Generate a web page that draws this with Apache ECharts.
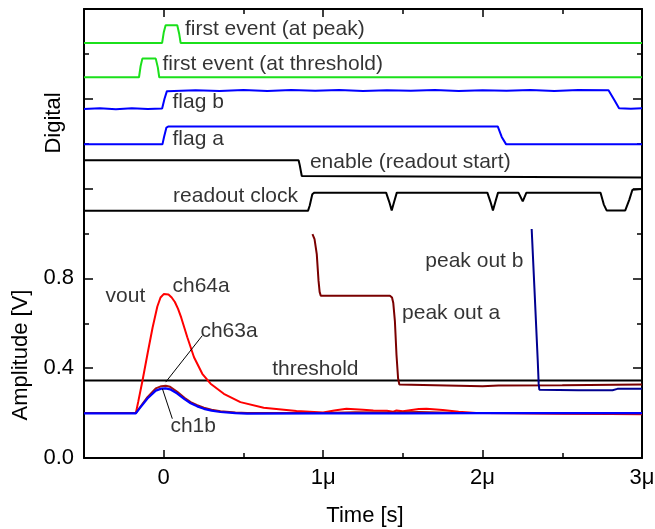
<!DOCTYPE html>
<html>
<head>
<meta charset="utf-8">
<title>Readout timing</title>
<script src="https://cdn.jsdelivr.net/npm/echarts@6/dist/echarts.min.js"></script>
<style>
  html, body { margin: 0; padding: 0; background: #fff; }
  #chart { width: 655px; height: 529px; }
</style>
</head>
<body>
<div id="chart"></div>
<script>
// Time axis in microseconds, vertical axis in volts (digital traces stacked above 1 V)
const timeMin = -0.5;
const timeMax = 3;
const timeMajorTicks = [0, 1, 2, 3];
const timeMinorTicks = [0.5, 1.5, 2.5];
const timeTickLabels = ['0', '1μ', '2μ', '3μ'];
const ampMin = 0;
const ampMax = 2;
const ampStep = 0.4;

// Digital traces: [time (µs), level]
const firstEventPeak = [[-0.5, 1.849], [-0.01, 1.849], [0.0, 1.895], [0.012, 1.928], [0.085, 1.928], [0.097, 1.89], [0.106, 1.849], [3, 1.849]];
const firstEventThreshold = [[-0.5, 1.696], [-0.155, 1.696], [-0.145, 1.745], [-0.134, 1.779], [-0.05, 1.779], [-0.037, 1.74], [-0.028, 1.696], [3, 1.696]];
const flagB = [[-0.5, 1.555], [-0.4, 1.558], [-0.3, 1.554], [-0.2, 1.558], [-0.1, 1.555], [-0.01, 1.557], [0.005, 1.6], [0.02, 1.634], [0.2, 1.638], [0.35, 1.635], [0.5, 1.639], [0.65, 1.635], [0.8, 1.639], [0.95, 1.636], [1.1, 1.639], [1.25, 1.635], [1.4, 1.638], [1.55, 1.636], [1.7, 1.639], [1.85, 1.635], [2.0, 1.638], [2.15, 1.636], [2.3, 1.639], [2.45, 1.635], [2.6, 1.639], [2.79, 1.638], [2.83, 1.59], [2.856, 1.558], [2.93, 1.556], [3, 1.558]];
const flagA = [[-0.5, 1.397], [-0.008, 1.397], [0.002, 1.43], [0.017, 1.472], [0.03, 1.477], [2.095, 1.477], [2.12, 1.43], [2.148, 1.397], [3, 1.397]];
const enable = [[-0.5, 1.326], [0.846, 1.326], [0.853, 1.305], [0.866, 1.256], [0.876, 1.249], [3, 1.249]];
const readoutClock = [[-0.5, 1.101], [0.905, 1.101], [0.916, 1.125], [0.932, 1.175], [0.945, 1.182], [1.395, 1.182], [1.415, 1.14], [1.43, 1.103], [1.445, 1.14], [1.462, 1.182], [2.03, 1.182], [2.05, 1.14], [2.065, 1.103], [2.08, 1.14], [2.097, 1.182], [2.225, 1.182], [2.252, 1.143], [2.275, 1.182], [2.74, 1.182], [2.76, 1.13], [2.778, 1.103], [2.895, 1.103], [2.92, 1.15], [2.94, 1.195], [3, 1.198]];

// Analog traces: [time (µs), amplitude (V)]
const threshold = [[-0.5, 0.345], [3, 0.345]];
const ch64a = [[-0.5, 0.2], [-0.175, 0.2], [-0.16, 0.25], [-0.133, 0.345], [-0.1, 0.47], [-0.07, 0.58], [-0.04, 0.675], [-0.02, 0.715], [0.0, 0.73], [0.0125, 0.733], [0.03, 0.728], [0.05, 0.715], [0.07, 0.695], [0.09, 0.664], [0.11, 0.625], [0.148, 0.538], [0.19, 0.449], [0.242, 0.375], [0.294, 0.331], [0.377, 0.286], [0.481, 0.249], [0.627, 0.224], [0.833, 0.209], [1.0, 0.203], [1.07, 0.212], [1.146, 0.219], [1.25, 0.215], [1.315, 0.212], [1.4, 0.21], [1.44, 0.206], [1.46, 0.212], [1.5, 0.208], [1.6, 0.218], [1.648, 0.219], [1.75, 0.214], [1.85, 0.206], [1.96, 0.2], [2.2, 0.199], [2.5, 0.197], [2.8, 0.196], [3, 0.195]];
const ch63a = [[-0.5, 0.2], [-0.175, 0.2], [-0.15, 0.225], [-0.102, 0.271], [-0.05, 0.31], [-0.015, 0.32], [0.0125, 0.322], [0.04, 0.317], [0.085, 0.295], [0.13, 0.268], [0.169, 0.249], [0.21, 0.235], [0.252, 0.224], [0.3, 0.215], [0.356, 0.208], [0.45, 0.203], [0.523, 0.2], [0.8, 0.2], [1.0, 0.201], [1.2, 0.204], [1.4, 0.203], [1.6, 0.205], [1.8, 0.202], [2.0, 0.2], [2.5, 0.199], [3, 0.198]];
const ch1b = [[-0.5, 0.199], [-0.175, 0.199], [-0.15, 0.222], [-0.102, 0.265], [-0.05, 0.3], [-0.015, 0.309], [0.0125, 0.31], [0.04, 0.306], [0.085, 0.287], [0.13, 0.262], [0.169, 0.244], [0.21, 0.23], [0.252, 0.219], [0.3, 0.211], [0.356, 0.205], [0.45, 0.2], [0.523, 0.198], [1.0, 0.199], [1.5, 0.199], [2.0, 0.2], [2.5, 0.2], [3, 0.2]];
const peakOutA = [[0.933, 0.997], [0.946, 0.975], [0.96, 0.908], [0.971, 0.79], [0.978, 0.74], [0.985, 0.723], [1.419, 0.723], [1.432, 0.715], [1.44, 0.69], [1.45, 0.61], [1.46, 0.46], [1.47, 0.355], [1.478, 0.327], [1.486, 0.32], [2.0, 0.32], [2.1, 0.323], [2.5, 0.324], [3, 0.327]];
const peakOutB = [[2.308, 1.02], [2.325, 0.76], [2.346, 0.434], [2.352, 0.33], [2.356, 0.304], [2.6, 0.302], [2.815, 0.302], [2.846, 0.308], [3, 0.308]];

// Leader lines from labels to curves
const ch63aLeader = [[0.242, 0.545], [0.0125, 0.338]];
const ch1bLeader = [[-0.008, 0.308], [0.054, 0.175]];

// Trace labels and their anchor points (left edge, vertical centre)
const labelTexts = ['first event (at peak)', 'first event (at threshold)', 'flag b', 'flag a', 'enable (readout start)', 'readout clock', 'vout', 'ch64a', 'ch63a', 'threshold', 'ch1b', 'peak out a', 'peak out b'];
const labelAnchors = [[0.133, 1.911], [-0.008, 1.755], [0.055, 1.586], [0.055, 1.421], [0.917, 1.318], [0.059, 1.166], [-0.365, 0.721], [0.055, 0.765], [0.23, 0.567], [0.68, 0.395], [0.042, 0.141], [1.495, 0.647], [1.641, 0.877]];

const FONT = "'Liberation Sans', Arial, Helvetica, sans-serif";
const GREEN = '#1be01b';
const BLUE = '#0000ff';

function trace(name, data, color, width) {
  return {
    name, type: 'line', data, xAxisIndex: 0, yAxisIndex: 0,
    showSymbol: false, symbol: 'none', silent: true,
    lineStyle: { color, width: width || 2 },
    animation: false
  };
}

function xAxisDef(position, ticks, tickLen, withLine, withLabels) {
  return {
    type: 'value', position, min: timeMin, max: timeMax, interval: 0.5,
    axisLine: { show: withLine, onZero: false, lineStyle: { color: '#000', width: 2 } },
    axisTick: { show: true, inside: true, length: tickLen, customValues: ticks, lineStyle: { color: '#000', width: 1.5 } },
    axisLabel: withLabels ? {
      show: true, customValues: timeMajorTicks, margin: 9,
      fontFamily: FONT, fontSize: 22, color: '#000',
      formatter: v => timeTickLabels[timeMajorTicks.indexOf(Math.round(v))] || ''
    } : { show: false },
    splitLine: { show: false }
  };
}

function yAxisDef(position, withLabels) {
  return {
    type: 'value', position, min: ampMin, max: ampMax, interval: ampStep,
    axisLine: { show: true, onZero: false, lineStyle: { color: '#000', width: 2 } },
    axisTick: { show: true, inside: true, length: 9, lineStyle: { color: '#000', width: 1.5 } },
    minorTick: { show: true, splitNumber: 2, length: 5, lineStyle: { color: '#000', width: 1.5 } },
    axisLabel: withLabels ? {
      show: true, margin: 10, fontFamily: FONT, fontSize: 22, color: '#000',
      formatter: v => (v <= 0.8 + 1e-9 ? v.toFixed(1) : '')
    } : { show: false },
    splitLine: { show: false },
    minorSplitLine: { show: false }
  };
}

const chart = echarts.init(document.getElementById('chart'), null, { renderer: 'canvas' });

chart.setOption({
  animation: false,
  backgroundColor: '#fff',
  grid: { left: 84, right: 13, top: 9, bottom: 71, containLabel: false, outerBoundsMode: 'none' },
  xAxis: [
    xAxisDef('bottom', timeMajorTicks, 8, true, true),
    xAxisDef('bottom', timeMinorTicks, 5, false, false),
    xAxisDef('top', timeMajorTicks, 8, true, false),
    xAxisDef('top', timeMinorTicks, 5, false, false)
  ],
  yAxis: [yAxisDef('left', true), yAxisDef('right', false)],
  graphic: [
    { type: 'text', x: 365, y: 516, style: { text: 'Time [s]', fontFamily: FONT, fontSize: 22, fill: '#000', align: 'center', verticalAlign: 'middle' } },
    { type: 'text', x: 21, y: 355, rotation: Math.PI / 2, style: { text: 'Amplitude [V]', fontFamily: FONT, fontSize: 22, fill: '#000', align: 'center', verticalAlign: 'middle' } },
    { type: 'text', x: 54, y: 123, rotation: Math.PI / 2, style: { text: 'Digital', fontFamily: FONT, fontSize: 22, fill: '#000', align: 'center', verticalAlign: 'middle' } }
  ],
  series: [
    trace('first event (at peak)', firstEventPeak, GREEN),
    trace('first event (at threshold)', firstEventThreshold, GREEN),
    trace('flag b', flagB, BLUE),
    trace('flag a', flagA, BLUE),
    trace('enable', enable, '#000'),
    trace('readout clock', readoutClock, '#000'),
    trace('threshold', threshold, '#000'),
    trace('ch64a', ch64a, '#ff0000'),
    trace('ch63a', ch63a, '#a01010'),
    trace('ch1b', ch1b, BLUE, 2.2),
    trace('peak out a', peakOutA, '#7a0000'),
    trace('peak out b', peakOutB, '#000090'),
    trace('ch63a leader', ch63aLeader, '#000', 1),
    trace('ch1b leader', ch1bLeader, '#000', 1),
    {
      name: 'labels', type: 'scatter', xAxisIndex: 0, yAxisIndex: 0,
      symbolSize: 0, silent: true, animation: false,
      data: labelAnchors.map((p, i) => ({ value: p, name: labelTexts[i] })),
      label: {
        show: true, position: 'right', distance: 0,
        fontFamily: FONT, fontSize: 21, color: '#000',
        formatter: p => p.name
      },
      labelLayout: { hideOverlap: false }
    }
  ]
});
</script>
</body>
</html>
